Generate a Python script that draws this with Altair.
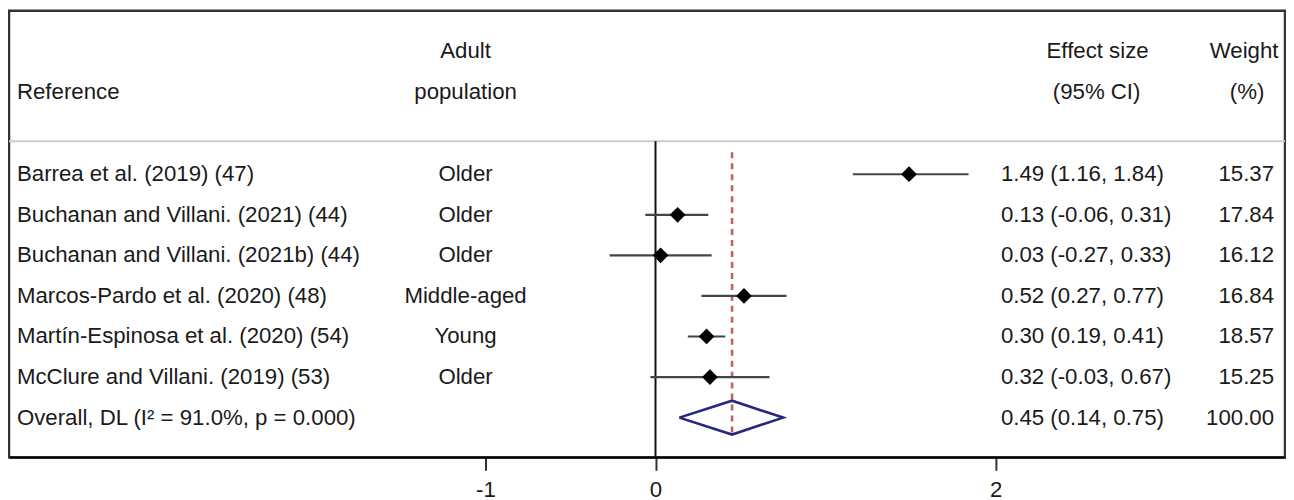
import altair as alt
import pandas as pd

# ---------------- data ----------------
studies = [
    "Barrea et al. (2019) (47)",
    "Buchanan and Villani. (2021) (44)",
    "Buchanan and Villani. (2021b) (44)",
    "Marcos-Pardo et al. (2020) (48)",
    "Martín-Espinosa et al. (2020) (54)",
    "McClure and Villani. (2019) (53)",
]
population = ["Older", "Older", "Older", "Middle-aged", "Young", "Older"]
effect = [1.49, 0.13, 0.03, 0.52, 0.30, 0.32]
ci_low = [1.16, -0.06, -0.27, 0.27, 0.19, -0.03]
ci_high = [1.84, 0.31, 0.33, 0.77, 0.41, 0.67]
weights = [15.37, 17.84, 16.12, 16.84, 18.57, 15.25]

overall_label = "Overall, DL (I² = 91.0%, p = 0.000)"
overall_effect = 0.45
overall_low = 0.14
overall_high = 0.75
overall_weight = 100.00

tick_values = [-1, 0, 2]
header_ref = "Reference"
header_pop = ["Adult", "population"]
header_es = ["Effect size", "(95% CI)"]
header_w = ["Weight", "(%)"]

# ---------------- style ----------------
FONT = "Liberation Sans"
FS = 22.3
TXT = "#1a1a1a"
W, H = 1280, 448

n = len(studies)
rows = list(range(n))
studies_df = pd.DataFrame({
    "row": rows, "est": effect, "lo": ci_low, "hi": ci_high,
})
table_df = pd.DataFrame({
    "row": rows + [n],
    "study": studies + [overall_label],
    "pop": population + [""],
    "es": [f"{e:.2f} ({l:.2f}, {h:.2f})" for e, l, h in zip(effect, ci_low, ci_high)]
          + [f"{overall_effect:.2f} ({overall_low:.2f}, {overall_high:.2f})"],
    "w": [f"{w:.2f}" for w in weights] + [f"{overall_weight:.2f}"],
})
half = 0.418
diamond_df = pd.DataFrame({
    "x": [overall_low, overall_effect, overall_high, overall_effect, overall_low],
    "row": [n, n - half, n, n + half, n],
    "o": [0, 1, 2, 3, 4],
})
overall_df = pd.DataFrame({"est": [overall_effect]})
zero_df = pd.DataFrame({"est": [0]})
one = pd.DataFrame({"a": [0]})

xscale = alt.Scale(domain=[-3.80, 3.70], nice=False, zero=False)
yscale = alt.Scale(domain=[-4.03, 6.98], reverse=True, nice=False, zero=False)
xaxis = alt.Axis(values=tick_values, title=None, grid=False, domainColor="#000000",
                 domainWidth=2, tickColor="#333333", tickWidth=2, tickSize=13,
                 labelFontSize=FS, labelFont=FONT, labelColor=TXT, labelPadding=8,
                 labelExpr="'' + datum.value")


def X(field, **kw):
    return alt.X(field, type="quantitative", scale=xscale, axis=xaxis, **kw)


def Y(field):
    return alt.Y(field, type="quantitative", scale=yscale, axis=None)


separator = alt.Chart(one).mark_rule(color="#cccccc", strokeWidth=2).encode(
    x=alt.value(0), x2=alt.value(W), y=alt.value(131))

zero_line = alt.Chart(zero_df).mark_rule(color="#111111", strokeWidth=2).encode(
    x=X("est"), y=alt.value(131), y2=alt.value(H))

dashed = alt.Chart(overall_df).mark_rule(color="#c06262", strokeWidth=2.6,
                                          strokeDash=[6, 5]).encode(
    x=X("est"), y=alt.value(142), y2=alt.value(428))

ci = alt.Chart(studies_df).mark_rule(color="#454545", strokeWidth=2.2).encode(
    x=X("lo"), x2="hi", y=Y("row"))

points = alt.Chart(studies_df).mark_point(shape="diamond", filled=True, size=250,
                                          color="#000000", opacity=1).encode(
    x=X("est"), y=Y("row"))

diamond = alt.Chart(diamond_df).mark_line(color="#27277d", strokeWidth=2.6).encode(
    x=X("x"), y=Y("row"), order="o:Q")


def col(field, px, align):
    return alt.Chart(table_df).mark_text(align=align, baseline="middle", fontSize=FS,
                                         font=FONT, color=TXT).encode(
        x=alt.value(px), y=Y("row"), text=f"{field}:N")


def label(txt, px, py, align):
    return alt.Chart(one).mark_text(text=txt, align=align, baseline="middle",
                                    fontSize=FS, font=FONT, color=TXT).encode(
        x=alt.value(px), y=alt.value(py))


layers = [
    separator, zero_line, dashed, ci, points, diamond,
    col("study", 8, "left"), col("pop", 458, "center"),
    col("es", 995, "left"), col("w", 1269, "right"),
    label(header_ref, 8, 82, "left"),
    label(header_pop[0], 458, 40, "center"), label(header_pop[1], 458, 82, "center"),
    label(header_es[0], 1092, 40, "center"), label(header_es[1], 1091, 82, "center"),
    label(header_w[0], 1239, 40, "center"), label(header_w[1], 1242, 82, "center"),
]

chart = alt.layer(*layers).properties(
    width=W, height=H,
    padding={"left": 0, "top": 2, "right": 0, "bottom": 0},
    background="white",
).configure_view(stroke="#333333", strokeWidth=2.5)

chart.save("out.html", embed_options={"renderer": "svg", "actions": False})
